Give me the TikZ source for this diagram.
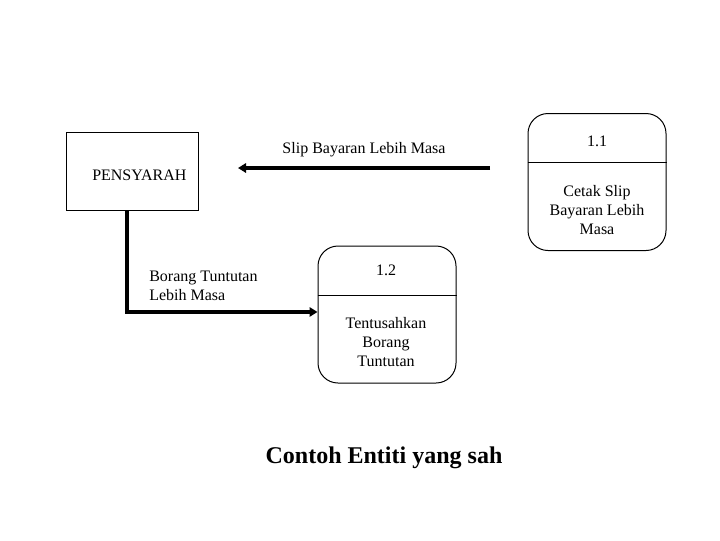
\documentclass[tikz,border=0pt]{standalone}
\usepackage{fontspec}
\setmainfont{Liberation Serif}
\usetikzlibrary{arrows.meta}
\begin{document}
\begin{tikzpicture}[x=0.75pt,y=-0.75pt,
  entity/.style={draw,line width=0.75pt,minimum width=99pt,minimum height=58.5pt,inner sep=0pt},
  proc/.style={draw,line width=0.75pt,rounded corners=15pt,minimum width=103.5pt,minimum height=102.75pt,inner sep=0pt},
  lbl/.style={font=\fontsize{12pt}{14.5pt}\selectfont,align=center,inner sep=0pt},
  flow/.style={line width=3pt,-{Triangle[length=6pt,width=7pt]}},
  divider/.style={line width=0.75pt}]
\useasboundingbox (0,0) rectangle (720,540);
% entity
\node[entity] (pens) at (132,171) {};
\node[lbl,anchor=west] (pensl) at (92,175) {PENSYARAH};
% process 1.1
\node[proc] (p11) at (597,182) {};
\draw[divider] (p11.west |- 0,162) -- (p11.east |- 0,162);
\node[lbl] (p11n) at (597,141) {1.1};
\node[lbl] (p11t) at (597,210) {Cetak Slip\\Bayaran Lebih\\Masa};
% process 1.2
\node[proc] (p12) at (387,314.5) {};
\draw[divider] (p12.west |- 0,295) -- (p12.east |- 0,295);
\node[lbl] (p12n) at (386,270) {1.2};
\node[lbl] (p12t) at (386,342) {Tentusahkan\\Borang\\Tuntutan};
% flow 1
\coordinate (f1s) at (490,168);
\coordinate (f1e) at (238,168);
\draw[flow] (f1s) -- (f1e);
\node[lbl] (f1l) at (364,150) {Slip Bayaran Lebih Masa};
% flow 2
\draw[flow,line join=miter] ([xshift=-3.75pt]pens.south) |- ([yshift=1.9pt]p12.west);
\node[lbl,anchor=west,align=left] (f2l) at (149,286) {Borang Tuntutan\\Lebih Masa};
% title
\node[font=\bfseries\fontsize{18pt}{22pt}\selectfont,inner sep=0pt] (title) at (384,458) {Contoh Entiti yang sah};
\end{tikzpicture}
\end{document}
